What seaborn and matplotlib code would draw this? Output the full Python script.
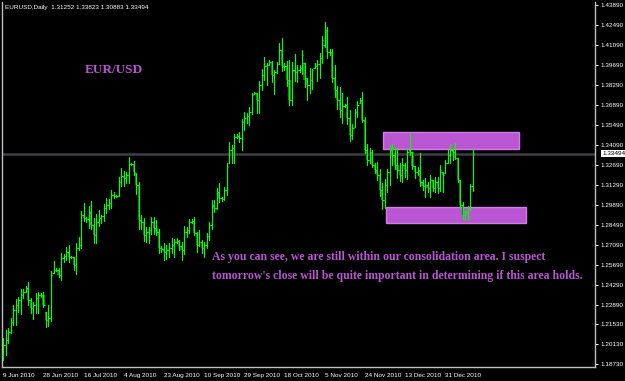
import numpy as np
import pandas as pd
import matplotlib
matplotlib.use("Agg")
import matplotlib.pyplot as plt
import matplotlib.transforms as mtransforms
from matplotlib.patches import Rectangle
import seaborn as sns

# ---------------- data (EURUSD daily, 9 Jun 2010 - 13 Jan 2011) ----------------
open_ = [1.1939,1.2009,1.2044,1.2100,1.2170,1.2254,1.2289,1.2324,1.2359,1.2380,
         1.2408,1.2324,1.2268,1.2289,1.2338,1.2359,1.2359,1.2240,1.2184,1.2198,
         1.2513,1.2534,1.2534,1.2499,1.2618,1.2632,1.2660,1.2625,1.2625,1.2569,
         1.2688,1.2709,1.2919,1.2898,1.2891,1.2940,1.2849,1.2779,1.2870,1.2898,
         1.2912,1.2968,1.2989,1.3003,1.3059,1.3052,1.3052,1.3150,1.3192,1.3178,
         1.3199,1.3276,1.3276,1.3213,1.3129,1.2884,1.2870,1.2779,1.2800,1.2814,
         1.2870,1.2828,1.2800,1.2688,1.2681,1.2660,1.2674,1.2688,1.2709,1.2730,
         1.2737,1.2702,1.2674,1.2800,1.2814,1.2870,1.2877,1.2793,1.2709,1.2730,
         1.2688,1.2709,1.2772,1.2849,1.2989,1.2968,1.3080,1.3038,1.3031,1.3094,
         1.3283,1.3374,1.3388,1.3465,1.3472,1.3458,1.3570,1.3598,1.3612,1.3640,
         1.3766,1.3773,1.3724,1.3829,1.3899,1.3962,1.3969,1.3990,1.3899,1.3920,
         1.3976,1.4074,1.3962,1.3962,1.3864,1.3724,1.3934,1.3920,1.3934,1.3948,
         1.3983,1.3878,1.3829,1.3864,1.3948,1.3962,1.3976,1.4018,1.4109,1.4214,
         1.4060,1.4060,1.3878,1.3794,1.3724,1.3654,1.3682,1.3689,1.3598,1.3479,
         1.3535,1.3640,1.3703,1.3724,1.3584,1.3374,1.3304,1.3360,1.3269,1.3234,
         1.3199,1.3094,1.3024,1.3129,1.3220,1.3374,1.3339,1.3269,1.3234,1.3199,
         1.3269,1.3234,1.3374,1.3360,1.3262,1.3220,1.3234,1.3150,1.3122,1.3129,
         1.3108,1.3164,1.3108,1.3150,1.3108,1.3220,1.3213,1.3283,1.3339,1.3374,
         1.3360,1.3318,1.3164,1.2989,1.2919,1.2940,1.2968,1.3125]
high = [1.2058,1.2114,1.2128,1.2198,1.2289,1.2331,1.2345,1.2401,1.2401,1.2422,
        1.2450,1.2338,1.2310,1.2373,1.2380,1.2373,1.2380,1.2240,1.2289,1.2527,
        1.2597,1.2548,1.2548,1.2653,1.2646,1.2695,1.2709,1.2632,1.2625,1.2723,
        1.2765,1.2947,1.3003,1.2905,1.2982,1.3017,1.2898,1.2926,1.2954,1.2919,
        1.2996,1.3038,1.3031,1.3094,1.3080,1.3059,1.3185,1.3248,1.3227,1.3220,
        1.3325,1.3283,1.3297,1.3213,1.3150,1.2919,1.2898,1.2835,1.2835,1.2905,
        1.2905,1.2884,1.2821,1.2702,1.2723,1.2709,1.2723,1.2758,1.2751,1.2758,
        1.2744,1.2730,1.2842,1.2835,1.2891,1.2891,1.2905,1.2800,1.2814,1.2744,
        1.2730,1.2793,1.2870,1.3024,1.3024,1.3108,1.3143,1.3045,1.3115,1.3283,
        1.3430,1.3409,1.3486,1.3486,1.3500,1.3591,1.3640,1.3633,1.3675,1.3773,
        1.3780,1.3773,1.3857,1.3941,1.4025,1.3983,1.4004,1.3997,1.3934,1.3990,
        1.4123,1.4158,1.3983,1.3997,1.4004,1.3990,1.4046,1.3969,1.3969,1.4074,
        1.3983,1.3878,1.3948,1.3941,1.3983,1.4004,1.4053,1.4172,1.4270,1.4235,
        1.4081,1.4081,1.3969,1.3822,1.3815,1.3773,1.3696,1.3745,1.3654,1.3556,
        1.3661,1.3717,1.3738,1.3780,1.3605,1.3416,1.3388,1.3374,1.3283,1.3290,
        1.3241,1.3143,1.3171,1.3241,1.3409,1.3416,1.3395,1.3388,1.3283,1.3318,
        1.3283,1.3388,1.3493,1.3360,1.3262,1.3255,1.3353,1.3164,1.3178,1.3150,
        1.3199,1.3164,1.3185,1.3185,1.3269,1.3220,1.3304,1.3374,1.3416,1.3381,
        1.3423,1.3318,1.3164,1.3010,1.2954,1.2982,1.3136,1.3382]
low = [1.1904,1.1939,1.2023,1.2093,1.2149,1.2149,1.2240,1.2226,1.2338,1.2380,
       1.2289,1.2233,1.2191,1.2233,1.2233,1.2345,1.2275,1.2135,1.2142,1.2177,
       1.2513,1.2527,1.2485,1.2464,1.2590,1.2604,1.2590,1.2618,1.2534,1.2506,
       1.2674,1.2688,1.2877,1.2870,1.2828,1.2821,1.2723,1.2723,1.2842,1.2863,
       1.2877,1.2933,1.2961,1.2968,1.3038,1.3045,1.3052,1.3122,1.3122,1.3143,
       1.3143,1.3269,1.3199,1.3066,1.2821,1.2821,1.2737,1.2730,1.2723,1.2786,
       1.2786,1.2779,1.2653,1.2660,1.2604,1.2611,1.2625,1.2653,1.2625,1.2723,
       1.2674,1.2604,1.2646,1.2765,1.2793,1.2863,1.2779,1.2660,1.2702,1.2653,
       1.2625,1.2688,1.2744,1.2821,1.2940,1.2961,1.3010,1.3017,1.3024,1.3059,
       1.3283,1.3283,1.3283,1.3458,1.3430,1.3374,1.3514,1.3563,1.3549,1.3626,
       1.3766,1.3633,1.3633,1.3794,1.3864,1.3829,1.3969,1.3850,1.3766,1.3913,
       1.3976,1.3927,1.3934,1.3822,1.3689,1.3689,1.3857,1.3850,1.3920,1.3906,
       1.3815,1.3724,1.3773,1.3801,1.3948,1.3857,1.3878,1.3983,1.4095,1.4018,
       1.4039,1.3850,1.3745,1.3661,1.3605,1.3563,1.3675,1.3556,1.3437,1.3451,
       1.3535,1.3605,1.3703,1.3570,1.3353,1.3269,1.3283,1.3255,1.3213,1.3164,
       1.3052,1.2961,1.2968,1.3080,1.3129,1.3269,1.3241,1.3178,1.3157,1.3150,
       1.3185,1.3171,1.3339,1.3241,1.3178,1.3199,1.3122,1.3094,1.3045,1.3080,
       1.3045,1.3087,1.3080,1.3073,1.3087,1.3080,1.3213,1.3283,1.3283,1.3304,
       1.3311,1.3150,1.2968,1.2891,1.2884,1.2884,1.2954,1.3088]
close = [1.2009,1.2044,1.2100,1.2170,1.2254,1.2289,1.2324,1.2359,1.2380,1.2408,
         1.2324,1.2268,1.2289,1.2338,1.2359,1.2359,1.2289,1.2184,1.2198,1.2499,
         1.2534,1.2534,1.2499,1.2618,1.2632,1.2660,1.2625,1.2625,1.2569,1.2688,
         1.2709,1.2919,1.2898,1.2891,1.2940,1.2849,1.2779,1.2870,1.2898,1.2912,
         1.2968,1.2989,1.3003,1.3059,1.3052,1.3052,1.3150,1.3192,1.3178,1.3199,
         1.3276,1.3276,1.3220,1.3129,1.2884,1.2870,1.2779,1.2800,1.2814,1.2870,
         1.2828,1.2800,1.2688,1.2681,1.2660,1.2674,1.2688,1.2709,1.2730,1.2737,
         1.2702,1.2674,1.2800,1.2814,1.2870,1.2877,1.2793,1.2709,1.2730,1.2688,
         1.2709,1.2772,1.2849,1.2989,1.2968,1.3080,1.3038,1.3031,1.3094,1.3255,
         1.3374,1.3388,1.3465,1.3472,1.3458,1.3570,1.3598,1.3612,1.3640,1.3759,
         1.3773,1.3724,1.3829,1.3899,1.3962,1.3969,1.3990,1.3899,1.3920,1.3976,
         1.4074,1.3962,1.3962,1.3864,1.3724,1.3934,1.3920,1.3934,1.3948,1.4039,
         1.3864,1.3829,1.3864,1.3934,1.3962,1.3976,1.4018,1.4144,1.4214,1.4060,
         1.4060,1.3878,1.3794,1.3724,1.3654,1.3682,1.3689,1.3598,1.3479,1.3528,
         1.3640,1.3689,1.3724,1.3584,1.3374,1.3304,1.3360,1.3269,1.3234,1.3199,
         1.3094,1.3024,1.3129,1.3220,1.3374,1.3339,1.3269,1.3234,1.3199,1.3269,
         1.3234,1.3360,1.3360,1.3262,1.3220,1.3234,1.3150,1.3122,1.3129,1.3108,
         1.3164,1.3108,1.3150,1.3108,1.3234,1.3199,1.3283,1.3339,1.3374,1.3360,
         1.3318,1.3164,1.2989,1.2919,1.2940,1.2968,1.3125,1.33494]

date_labels = ["9 Jun 2010", "28 Jun 2010", "16 Jul 2010", "4 Aug 2010",
               "23 Aug 2010", "10 Sep 2010", "29 Sep 2010", "18 Oct 2010",
               "5 Nov 2010", "24 Nov 2010", "13 Dec 2010", "31 Dec 2010"]
date_label_bars = [0, 16, 32, 48, 64, 80, 96, 112, 128, 144, 160, 176]

price_ticks = [1.43890, 1.42490, 1.41090, 1.39690, 1.38290, 1.36890, 1.35490,
               1.34090, 1.32690, 1.31290, 1.29890, 1.28490, 1.27090, 1.25690,
               1.24290, 1.22890, 1.21530, 1.20130, 1.18730]
price_tick_labels = [f"{v:.5f}" for v in price_ticks]

last_price = 1.33494
header = "EURUSD,Daily  1.31252 1.33823 1.30883 1.33494"

# consolidation zones (bar start, bar end, price low, price high)
upper_zone = (151.3, 205.5, 1.3381, 1.3500)
lower_zone = (152.5, 208.3, 1.2863, 1.2975)

symbol_text = "EUR/USD"
comment_lines = ["As you can see, we are still within our consolidation area. I suspect",
                 "tomorrow's close will be quite important in determining if this area holds."]

# ---------------- figure ----------------
sns.set_theme(style="dark")
plt.rcParams["font.family"] = ["DejaVu Sans"]

W, H = 625, 381
fig = plt.figure(figsize=(W / 100, H / 100), dpi=100, facecolor="black")
ax = fig.add_axes([2 / W, 1 - 367 / H, (595 - 2) / W, (367 - 2) / H])
ax.set_facecolor("black")

n = len(close)
idx = np.arange(n)
o = np.array(open_); h = np.array(high); l = np.array(low); c = np.array(close)

lime = "#00FF00"
purple = "#BA55D3"

# zones behind the bars
for (x0, x1, p0, p1) in (upper_zone, lower_zone):
    ax.add_patch(Rectangle((x0, p0), x1 - x0, p1 - p0, facecolor=purple,
                           edgecolor="#D07FE0", lw=1.0, zorder=1.5))

# current price line
ax.axhline(last_price, color="#3E3E46", lw=1.8, zorder=1)

# down-bar bodies (dark green)
down = c < o
ax.bar(idx[down], (o - c)[down], bottom=c[down], width=0.85,
       color="#137A13", edgecolor="none", zorder=2)

# high-low bars via seaborn
df_hl = pd.DataFrame({
    "bar": np.repeat(idx, 2),
    "unit": np.repeat(idx, 2),
    "price": np.column_stack([l, h]).ravel(),
})
sns.lineplot(data=df_hl, x="bar", y="price", units="unit", estimator=None,
             color=lime, lw=0.85, sort=False, ax=ax, legend=False, zorder=3)
# open / close ticks
ax.hlines(o, idx - 0.5, idx, color=lime, lw=0.85, zorder=3)
ax.hlines(c, idx, idx + 0.5, color=lime, lw=0.85, zorder=3)

ax.set_xlim(-0.52, 235.7)
ax.set_ylim(1.1855, 1.4410)
ax.set_xlabel("")
ax.set_ylabel("")

# axes styling
for s in ("left", "bottom", "right"):
    ax.spines[s].set_visible(True)
    ax.spines[s].set_color("#BEBEBE")
    ax.spines[s].set_linewidth(1.0)
ax.spines["top"].set_visible(False)

ax.yaxis.tick_right()
ax.set_yticks(price_ticks)
ax.set_yticklabels(price_tick_labels)
ax.set_xticks(date_label_bars)
ax.set_xticklabels(date_labels)
ax.tick_params(axis="both", colors="white", labelcolor="white", labelsize=4.6,
               length=2.5, width=0.7, direction="out", pad=1.5)
for t in ax.get_xticklabels():
    t.set_ha("left")
for t in ax.get_xticklabels() + ax.get_yticklabels():
    t.set_family(["Liberation Sans", "DejaVu Sans"])
ax.grid(False)

# current price tag
trans = mtransforms.blended_transform_factory(ax.transAxes, ax.transData)
ax.text(1.012, last_price, f"{last_price:.5f}", transform=trans, fontsize=4.6,
        color="black", va="center", ha="left", family=["Liberation Sans"],
        bbox=dict(boxstyle="square,pad=0.2", facecolor="white", edgecolor="none"),
        zorder=6, clip_on=False)

# header
fig.text(5 / W, 1 - 7 / H, header, color="white", fontsize=4.6, va="center",
         ha="left", family=["Liberation Sans"])

# annotations
fig.text(85 / W, 1 - 70 / H, symbol_text, color=purple, fontsize=9.5,
         fontweight="bold", family=["Liberation Serif"], va="center", ha="left")
fig.text(212 / W, 1 - 257 / H, comment_lines[0], color=purple, fontsize=8.5,
         fontweight="bold", family=["Liberation Serif"], va="center", ha="left")
fig.text(212 / W, 1 - 276 / H, comment_lines[1], color=purple, fontsize=8.5,
         fontweight="bold", family=["Liberation Serif"], va="center", ha="left")

fig.savefig("out.png", dpi=100, facecolor="black")
